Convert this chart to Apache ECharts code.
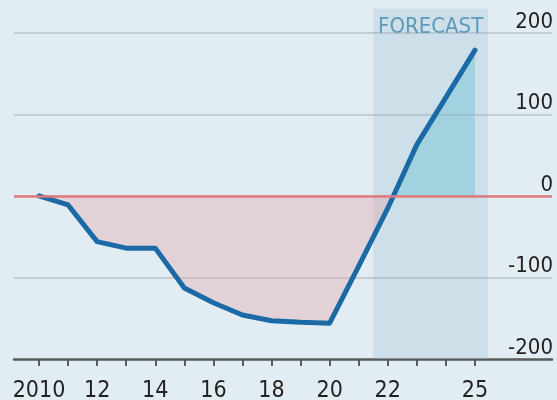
<!DOCTYPE html>
<html>
<head>
<meta charset="utf-8">
<script src="https://cdn.jsdelivr.net/npm/echarts@6/dist/echarts.min.js"></script>
<style>
  html, body { margin: 0; padding: 0; background: #e2edf3; }
  #chart { width: 557px; height: 400px; }
</style>
</head>
<body>
<div id="chart"></div>
<script>
// data
const years = [2010, 2011, 2012, 2013, 2014, 2015, 2016, 2017, 2018, 2019, 2020, 2021, 2022, 2023, 2024, 2025];
const values = [0, -11, -56, -64, -64, -113, -131, -146, -153, -155, -156, -86, -15, 63, 121, 179];
const labelYears = [2010, 2012, 2014, 2016, 2018, 2020, 2022, 2025];
const labelTexts = ["2010", "12", "14", "16", "18", "20", "22", "25"];
const yTicks = [-200, -100, 0, 100, 200];
const forecastRange = [2021.5, 2025.45];
const forecastLabel = "FORECAST";

const font = "'DejaVu Sans Condensed', 'Liberation Sans', sans-serif";

const chart = echarts.init(document.getElementById("chart"));

const points = years.map((y, i) => [y, values[i]]);
const maxV = Math.max(...values);
const minV = Math.min(...values);
const zeroStop = maxV / (maxV - minV); // where 0 sits inside the area's box

const option = {
  backgroundColor: "#e2edf3",
  animation: false,
  grid: { left: 14, right: 5, top: 8.5, bottom: 41, outerBoundsMode: "none", containLabel: false },
  xAxis: {
    type: "value",
    min: 2009.14,
    max: 2027.65,
    splitLine: { show: false },
    axisLine: { onZero: false, lineStyle: { color: "#5a5a5a", width: 2.5 } },
    axisTick: {
      customValues: years,
      length: 7,
      lineStyle: { color: "#5a5a5a", width: 2 },
    },
    axisLabel: {
      customValues: labelYears,
      formatter: (v) => labelTexts[labelYears.indexOf(v)],
      fontFamily: font,
      fontSize: 23,
      color: "#231f20",
      margin: 21,
    },
  },
  yAxis: {
    type: "value",
    position: "right",
    min: -200,
    max: 230,
    interval: 100,
    axisLine: { show: false },
    axisTick: { show: false },
    splitLine: {
      showMaxLine: false,
      showMinLine: false,
      lineStyle: { color: "#c4cbd1", width: 2 },
    },
    axisLabel: {
      inside: true,
      customValues: yTicks,
      margin: -1,
      verticalAlign: "bottom",
      fontFamily: font,
      fontSize: 22,
      color: "#231f20",
    },
  },
  series: [
    {
      // forecast band
      type: "line",
      data: [],
      z: 1,
      silent: true,
      markArea: {
        silent: true,
        itemStyle: { color: "rgba(150,185,210,0.28)" },
        label: {
          show: true,
          position: "insideTop",
          distance: 8,
          color: "#5d9bb8",
          fontFamily: font,
          fontSize: 22,
        },
        data: [[{ xAxis: forecastRange[0], name: forecastLabel }, { xAxis: forecastRange[1] }]],
      },
    },
    {
      // fill between the line and zero
      type: "line",
      data: points,
      z: 2,
      silent: true,
      symbol: "none",
      lineStyle: { width: 0, opacity: 0 },
      areaStyle: {
        origin: 0,
        opacity: 1,
        color: new echarts.graphic.LinearGradient(0, 0, 0, 1, [
          { offset: 0, color: "rgba(120,195,215,0.5)" },
          { offset: zeroStop, color: "rgba(120,195,215,0.5)" },
          { offset: zeroStop, color: "rgba(225,160,165,0.35)" },
          { offset: 1, color: "rgba(225,160,165,0.35)" },
        ]),
      },
    },
    {
      // zero line
      type: "line",
      data: [],
      z: 3,
      silent: true,
      markLine: {
        silent: true,
        symbol: "none",
        label: { show: false },
        lineStyle: { color: "#e07a7c", width: 2.5, type: "solid" },
        data: [{ yAxis: 0 }],
      },
    },
    {
      type: "line",
      data: points,
      z: 4,
      symbol: "none",
      lineStyle: { color: "#1b6aa5", width: 5, join: "round", cap: "round" },
    },
  ],
};

chart.setOption(option);
</script>
</body>
</html>
